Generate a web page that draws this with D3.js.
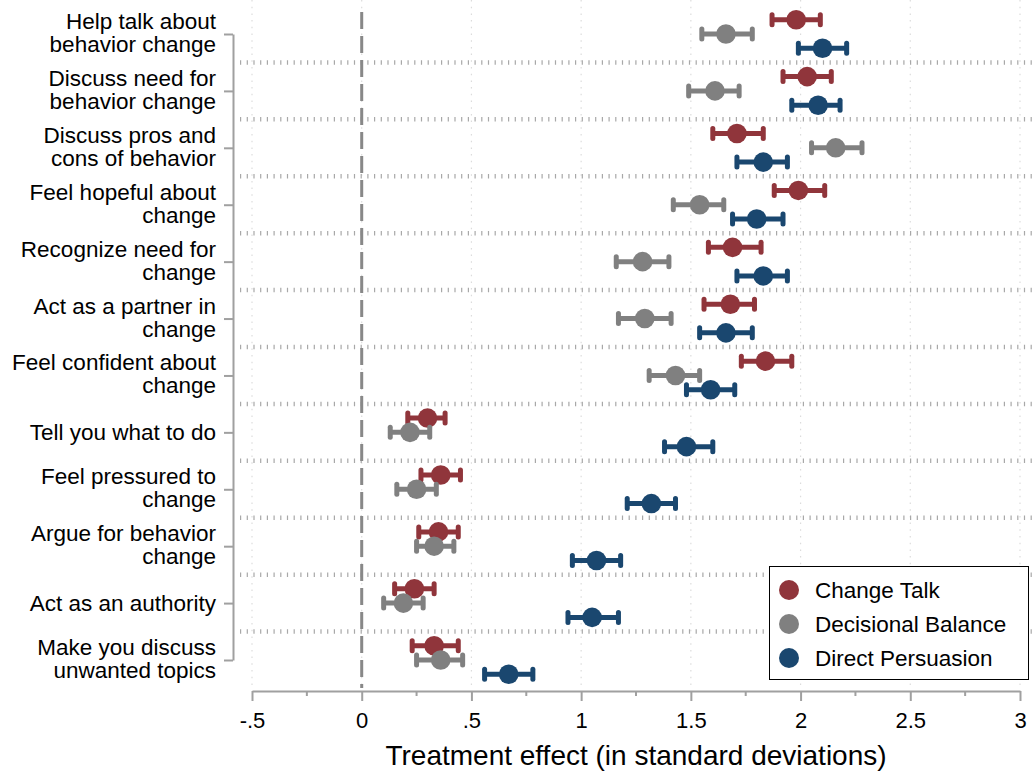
<!DOCTYPE html>
<html>
<head>
<meta charset="utf-8">
<script src="https://cdn.jsdelivr.net/npm/d3@7"></script>
<style>
body { margin: 0; background: #fff; }
text { font-family: "Liberation Sans", Arial, Helvetica, sans-serif; fill: #000; }
</style>
</head>
<body>
<div id="chart"></div>
<script>
// outcome labels, one array of lines per row (top to bottom)
var outcomes = [
  ["Help talk about", "behavior change"],
  ["Discuss need for", "behavior change"],
  ["Discuss pros and", "cons of behavior"],
  ["Feel hopeful about", "change"],
  ["Recognize need for", "change"],
  ["Act as a partner in", "change"],
  ["Feel confident about", "change"],
  ["Tell you what to do"],
  ["Feel pressured to", "change"],
  ["Argue for behavior", "change"],
  ["Act as an authority"],
  ["Make you discuss", "unwanted topics"]
];

var seriesNames = ["Change Talk", "Decisional Balance", "Direct Persuasion"];
var seriesColors = ["#90353b", "#808080", "#1a476f"];

// point estimates and confidence bounds
var changeTalk   = [1.98, 2.03, 1.71, 1.99, 1.69, 1.68, 1.84, 0.30, 0.36, 0.35, 0.24, 0.33];
var changeTalkLo = [1.87, 1.92, 1.60, 1.88, 1.58, 1.56, 1.73, 0.21, 0.27, 0.26, 0.15, 0.23];
var changeTalkHi = [2.09, 2.14, 1.83, 2.11, 1.82, 1.79, 1.96, 0.38, 0.45, 0.44, 0.33, 0.44];

var decisional   = [1.66, 1.61, 2.16, 1.54, 1.28, 1.29, 1.43, 0.22, 0.25, 0.33, 0.19, 0.36];
var decisionalLo = [1.55, 1.49, 2.05, 1.42, 1.16, 1.17, 1.31, 0.13, 0.16, 0.25, 0.10, 0.25];
var decisionalHi = [1.78, 1.72, 2.28, 1.65, 1.40, 1.41, 1.54, 0.31, 0.34, 0.42, 0.28, 0.46];

var persuasion   = [2.10, 2.08, 1.83, 1.80, 1.83, 1.66, 1.59, 1.48, 1.32, 1.07, 1.05, 0.67];
var persuasionLo = [1.99, 1.96, 1.71, 1.69, 1.71, 1.54, 1.48, 1.38, 1.21, 0.96, 0.94, 0.56];
var persuasionHi = [2.21, 2.18, 1.94, 1.92, 1.94, 1.78, 1.70, 1.60, 1.43, 1.18, 1.17, 0.78];

var xTicks = [-0.5, 0, 0.5, 1, 1.5, 2, 2.5, 3];
var xTickLabels = ["-.5", "0", ".5", "1", "1.5", "2", "2.5", "3"];
var xMinorTicks = [-0.25, 0.25, 0.75, 1.25, 1.75, 2.25, 2.75];
var xTitle = "Treatment effect (in standard deviations)";

var series = [
  { est: changeTalk, lo: changeTalkLo, hi: changeTalkHi },
  { est: decisional, lo: decisionalLo, hi: decisionalHi },
  { est: persuasion, lo: persuasionLo, hi: persuasionHi }
];
var offsets = [-14.3, 0, 14.3];

var width = 1034, height = 771;

var $svg = d3.select('#chart').append('svg')
    .attr('width', width)
    .attr('height', height);

var x = d3.scaleLinear().domain([-0.5, 3]).range([252, 1020]);
var y = d3.scalePoint().domain(d3.range(outcomes.length)).range([34, 660]);

// faint vertical grid
$svg.append('g').selectAll('line')
    .data(xTicks)
    .enter()
    .append('line')
    .attr('x1', function(d) { return x(d); })
    .attr('x2', function(d) { return x(d); })
    .attr('y1', 0)
    .attr('y2', 688)
    .style('stroke', '#dcdcdc')
    .style('stroke-width', 1.2)
    .style('stroke-dasharray', '1.5,5.2');

// dotted separators between outcomes
var seps = d3.range(outcomes.length - 1);
$svg.append('g').selectAll('line')
    .data(seps)
    .enter()
    .append('line')
    .attr('x1', 240)
    .attr('x2', 1032)
    .attr('y1', function(d) { return (y(d) + y(d + 1)) / 2; })
    .attr('y2', function(d) { return (y(d) + y(d + 1)) / 2; })
    .style('stroke', '#a8a8a8')
    .style('stroke-width', 4.5)
    .style('stroke-dasharray', '1.2,5.5');

// zero reference line
$svg.append('line')
    .attr('x1', x(0)).attr('x2', x(0))
    .attr('y1', 12).attr('y2', 688)
    .style('stroke', '#888')
    .style('stroke-width', 3)
    .style('stroke-dasharray', '17,7');

// x axis
var xAxis = d3.axisBottom(x)
    .tickValues(xTicks)
    .tickFormat(function(d, i) { return xTickLabels[i]; })
    .tickSize(10)
    .tickSizeOuter(0)
    .tickPadding(11);

var $xa = $svg.append('g')
    .attr('transform', 'translate(0,691)')
    .call(xAxis);
$xa.select('.domain').style('stroke', '#a0a0a0').style('stroke-width', 2);
$xa.selectAll('.tick line').style('stroke', '#a0a0a0').style('stroke-width', 2);
$xa.selectAll('.tick text').style('font-size', '22px').style('font-family', '"Liberation Sans", Arial, sans-serif').style('fill', '#000');

$xa.append('g').selectAll('line')
    .data(xMinorTicks)
    .enter()
    .append('line')
    .attr('x1', function(d) { return x(d); })
    .attr('x2', function(d) { return x(d); })
    .attr('y1', 0)
    .attr('y2', 5)
    .style('stroke', '#a0a0a0')
    .style('stroke-width', 2);

$svg.append('text')
    .attr('x', x(1.25))
    .attr('y', 765)
    .attr('text-anchor', 'middle')
    .style('font-size', '28px')
    .text(xTitle);

// y axis (ticks only, labels drawn separately)
var yAxis = d3.axisLeft(y).tickSize(9).tickSizeOuter(0).tickFormat('');
var $ya = $svg.append('g')
    .attr('transform', 'translate(233,0)')
    .call(yAxis);
$ya.select('.domain').style('stroke', '#a0a0a0').style('stroke-width', 2);
$ya.selectAll('.tick line').style('stroke', '#a0a0a0').style('stroke-width', 2);

var $labels = $svg.append('g').selectAll('text')
    .data(outcomes)
    .enter()
    .append('text')
    .attr('text-anchor', 'end')
    .style('font-size', '22.5px');

$labels.each(function(lines, i) {
    var t = d3.select(this);
    var base = lines.length === 1 ? y(i) + 8 : y(i) - 5;
    lines.forEach(function(s, j) {
        t.append('tspan')
            .attr('x', 216)
            .attr('y', base + j * 23)
            .text(s);
    });
});

// error bars and points
series.forEach(function(s, k) {
    var g = $svg.append('g');
    var color = seriesColors[k];
    var rows = d3.range(s.est.length);
    var yy = function(i) { return y(i) + offsets[k]; };

    g.selectAll('line.bar')
        .data(rows)
        .enter()
        .append('line')
        .attr('x1', function(i) { return x(s.lo[i]); })
        .attr('x2', function(i) { return x(s.hi[i]); })
        .attr('y1', yy)
        .attr('y2', yy)
        .style('stroke', color)
        .style('stroke-width', 5);

    [s.lo, s.hi].forEach(function(arr) {
        g.selectAll(null)
            .data(rows)
            .enter()
            .append('line')
            .attr('x1', function(i) { return x(arr[i]); })
            .attr('x2', function(i) { return x(arr[i]); })
            .attr('y1', function(i) { return yy(i) - 5; })
            .attr('y2', function(i) { return yy(i) + 5; })
            .style('stroke', color)
            .style('stroke-width', 5)
            .style('stroke-linecap', 'round');
    });

    g.selectAll('circle')
        .data(rows)
        .enter()
        .append('circle')
        .attr('cx', function(i) { return x(s.est[i]); })
        .attr('cy', yy)
        .attr('r', 9.8)
        .style('fill', color);
});

// legend
var $leg = $svg.append('g');
$leg.append('rect')
    .attr('x', 769.5).attr('y', 566.5)
    .attr('width', 259).attr('height', 113)
    .style('fill', '#fff')
    .style('stroke', '#000')
    .style('stroke-width', 1);

var $items = $leg.selectAll('g')
    .data(seriesNames)
    .enter()
    .append('g')
    .attr('transform', function(d, i) { return 'translate(789,' + (590 + i * 34) + ')'; });
$items.append('circle')
    .attr('r', 10)
    .style('fill', function(d, i) { return seriesColors[i]; });
$items.append('text')
    .attr('x', 26)
    .attr('dy', '0.36em')
    .style('font-size', '22.5px')
    .text(function(d) { return d; });
</script>
</body>
</html>
